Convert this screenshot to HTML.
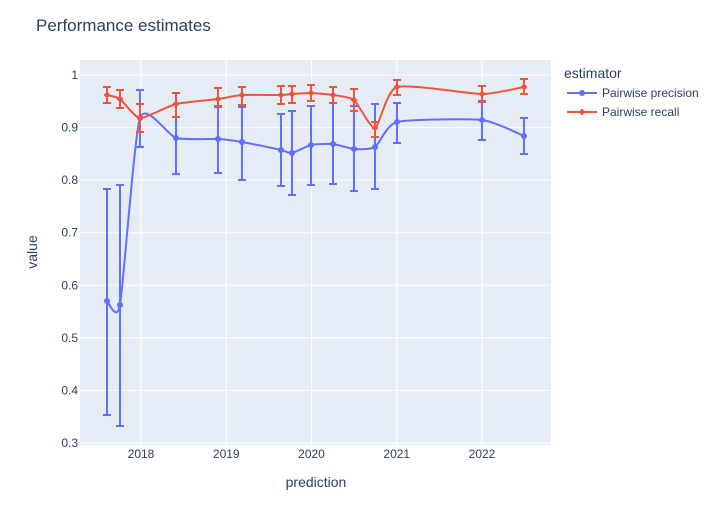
<!DOCTYPE html>
<html><head><meta charset="utf-8"><style>
body{margin:0;background:#fff;font-family:"Liberation Sans",Arial,sans-serif;}
svg text{font-family:"Liberation Sans",Arial,sans-serif;}
</style></head><body>
<svg id="s" width="720" height="525" xmlns="http://www.w3.org/2000/svg">
<rect width="720" height="525" fill="#fff"/>
<rect x="80" y="60" width="471" height="385" fill="#e5ecf6"/>
<g id="grid" stroke="#fff" stroke-width="1"></g>
<g id="labels" fill="#2a3f5f" font-size="12"></g>
<g id="series"></g>
<text x="36" y="31" font-size="17" fill="#2a3f5f">Performance estimates</text>
<text x="316" y="487" font-size="14" fill="#2a3f5f" text-anchor="middle">prediction</text>
<text x="37" y="252" font-size="14" fill="#2a3f5f" text-anchor="middle" transform="rotate(-90 37 252)">value</text>
<text x="564" y="78" font-size="14" fill="#2a3f5f">estimator</text>
<line x1="567" y1="93" x2="597" y2="93" stroke="#636efa" stroke-width="2"/>
<circle cx="582" cy="93" r="3" fill="#636efa"/>
<text x="602" y="97" font-size="12" fill="#2a3f5f">Pairwise precision</text>
<line x1="567" y1="112" x2="597" y2="112" stroke="#ef553b" stroke-width="2"/>
<path d="M582 108.5 L585.5 112 L582 115.5 L578.5 112Z" fill="#ef553b"/>
<text x="602" y="116" font-size="12" fill="#2a3f5f">Pairwise recall</text>
</svg>
<script>
var ns="http://www.w3.org/2000/svg";
function el(p,t,a,txt){var e=document.createElementNS(ns,t);for(var k in a)e.setAttribute(k,a[k]);if(txt!=null)e.textContent=txt;document.getElementById(p).appendChild(e);return e;}
var yv=[1,0.9,0.8,0.7,0.6,0.5,0.4,0.3];
yv.forEach(function(v){var y=75+(1-v)*525.7;el("grid","line",{x1:80,x2:551,y1:y,y2:y});el("labels","text",{x:78,y:y+4,"text-anchor":"end"},v==1?"1":v.toString());});
[2018,2019,2020,2021,2022].forEach(function(yr,i){var x=141+85.25*i;el("grid","line",{x1:x,x2:x,y1:60,y2:445});el("labels","text",{x:x,y:458,"text-anchor":"middle"},yr);});
var P=[[107,301,189,415],[120,305,185,426],[140,118,90,147],[176,138,93,174],[218,139,107,173],[242,142,107,180],[281,150,114,186],[292,153,111,195],[311,145,106,185],[333,144,103,184],[354,149,106,191],[375,147,104,189],[397,122,103,143],[482,120,101,140],[524,136,118,154]];
var R=[[107,95,87,103],[120,99,90,108],[140,118,104,132],[176,104,93,117],[218,99,88,106],[242,95,87,105],[281,95,86,104],[292,94,86,103],[311,93,85,101],[333,95,87,103],[354,100,89,111],[375,128,122,137],[397,87,80,95],[482,94,86,102],[524,87,79,94]];
function path(d){var s="M"+d[0][0]+","+d[0][1];for(var i=0;i<d.length-1;i++){var p0=d[Math.max(i-1,0)],p1=d[i],p2=d[i+1],p3=d[Math.min(i+2,d.length-1)];var t=0.1;s+=" C"+(p1[0]+(p2[0]-p0[0])*t)+","+(p1[1]+(p2[1]-p0[1])*t)+" "+(p2[0]-(p3[0]-p1[0])*t)+","+(p2[1]-(p3[1]-p1[1])*t)+" "+p2[0]+","+p2[1];}return s;}
function draw(d,c,diamond){
d.forEach(function(p){el("series","line",{x1:p[0],x2:p[0],y1:p[2],y2:p[3],stroke:c,"stroke-width":2});el("series","line",{x1:p[0]-4,x2:p[0]+4,y1:p[2],y2:p[2],stroke:c,"stroke-width":2});el("series","line",{x1:p[0]-4,x2:p[0]+4,y1:p[3],y2:p[3],stroke:c,"stroke-width":2});});
el("series","path",{d:path(d),fill:"none",stroke:c,"stroke-width":2});
d.forEach(function(p){if(diamond)el("series","path",{d:"M"+p[0]+" "+(p[1]-3.5)+" L"+(p[0]+3.5)+" "+p[1]+" L"+p[0]+" "+(p[1]+3.5)+" L"+(p[0]-3.5)+" "+p[1]+"Z",fill:c});else el("series","circle",{cx:p[0],cy:p[1],r:3,fill:c});});}
draw(P,"#636efa",false);draw(R,"#ef553b",true);
</script>
</body></html>
